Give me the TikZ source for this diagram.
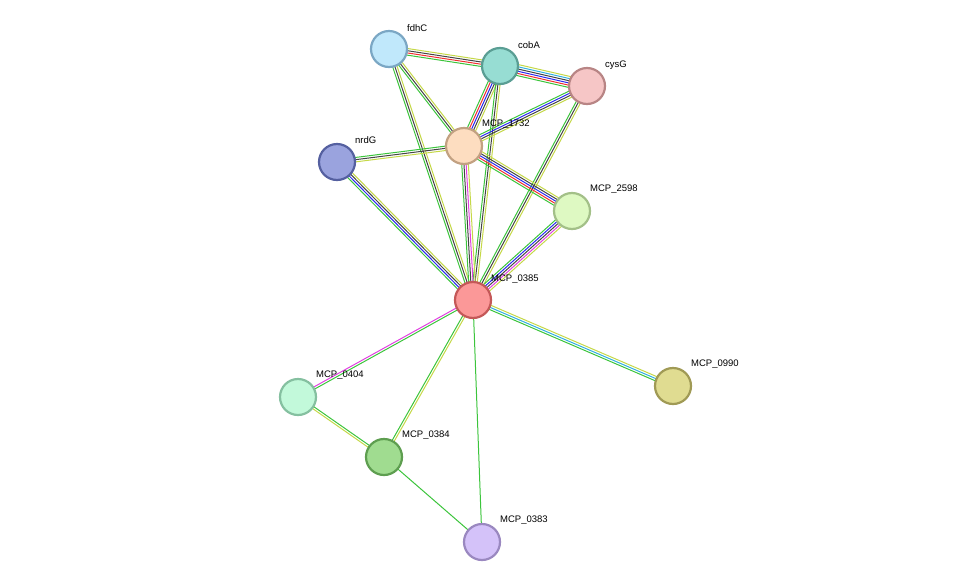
\documentclass[tikz,border=0pt]{standalone}
\usepackage{fontspec}
\setmainfont{Liberation Sans}
\usetikzlibrary{calc}
\definecolor{G}{HTML}{3CC43C}\definecolor{K}{HTML}{444444}\definecolor{Y}{HTML}{C5D848}
\definecolor{R}{HTML}{F03030}\definecolor{B}{HTML}{2A2AF0}\definecolor{M}{HTML}{E040E0}\definecolor{C}{HTML}{30B0E0}
\newcommand\bund[4]{\foreach \c [count=\i] in {#4}{\pgfmathsetmacro\o{(\i-1-(#3-1)/2)*2.2}
 \draw[\c,line width=1pt] ($(#1.center)!\o pt!90:(#2.center)$) -- ($(#2.center)!\o pt!-90:(#1.center)$);}}
\tikzset{prot/.code 2 args={\definecolor{pf}{HTML}{#1}\definecolor{pd}{HTML}{#2}\pgfkeysalso{fill=pf,draw=pd}},
 pn/.style={circle,minimum size=36pt,inner sep=0pt,line width=2.2pt},
 lab/.style={anchor=west,font=\fontsize{9.5pt}{11pt}\selectfont,inner sep=0pt}}
\begin{document}
\begin{tikzpicture}[x=1pt,y=-1pt]
\useasboundingbox (0,0) rectangle (975,587);
\path (389,49) coordinate (fdhC) (500,66) coordinate (cobA) (587,86) coordinate (cysG)
 (464,146) coordinate (p1732) (337,162) coordinate (nrdG) (572,211) coordinate (p2598)
 (473,300) coordinate (p0385) (673,386) coordinate (p0990) (298,397) coordinate (p0404)
 (384,457) coordinate (p0384) (482,542) coordinate (p0383);
\bund{fdhC}{cobA}{4}{G,R,K,Y}
\bund{cobA}{cysG}{6}{G,R,B,K,C,Y}
\bund{fdhC}{p1732}{3}{G,K,Y}
\bund{fdhC}{p0385}{3}{G,K,Y}
\bund{cobA}{p1732}{5}{G,R,B,K,Y}
\bund{cobA}{p0385}{3}{G,K,Y}
\bund{cysG}{p1732}{4}{G,B,K,Y}
\bund{cysG}{p0385}{3}{G,K,Y}
\bund{nrdG}{p1732}{3}{Y,K,G}
\bund{nrdG}{p0385}{4}{G,B,K,Y}
\bund{p1732}{p2598}{5}{G,R,B,K,Y}
\bund{p1732}{p0385}{4}{G,K,M,Y}
\bund{p2598}{p0385}{5}{G,B,K,M,Y}
\bund{p0385}{p0990}{3}{G,C,Y}
\bund{p0385}{p0404}{2}{M,G}
\bund{p0385}{p0384}{2}{G,Y}
\bund{p0385}{p0383}{1}{G}
\bund{p0404}{p0384}{2}{Y,G}
\bund{p0384}{p0383}{1}{G}
\node[pn,prot={c0e8fb}{7ba7c4}] (nfdhC) at (fdhC) {};
\node[pn,prot={97ddd3}{5a9e94}] (ncobA) at (cobA) {};
\node[pn,prot={f6c6c6}{b88585}] (ncysG) at (cysG) {};
\node[pn,prot={fdddc0}{c2a182}] (n1732) at (p1732) {};
\node[pn,prot={9aa3de}{5560a0}] (nnrdG) at (nrdG) {};
\node[pn,prot={def9c2}{a3c088}] (n2598) at (p2598) {};
\node[pn,prot={fb9898}{c45858}] (n0385) at (p0385) {};
\node[pn,prot={e0dc91}{a09a55}] (n0990) at (p0990) {};
\node[pn,prot={c2f9da}{85c0a0}] (n0404) at (p0404) {};
\node[pn,prot={a0dc90}{5e9e50}] (n0384) at (p0384) {};
\node[pn,prot={d4c2f9}{9a88c0}] (n0383) at (p0383) {};
\node[lab] (lfdhC) at (407,28) {fdhC};
\node[lab] (lcobA) at (518,45) {cobA};
\node[lab] (lcysG) at (605,65) {cysG};
\node[lab] (l1732) at (482,124) {MCP\_1732};
\node[lab] (lnrdG) at (355,140) {nrdG};
\node[lab] (l2598) at (590,189) {MCP\_2598};
\node[lab] (l0385) at (491,279) {MCP\_0385};
\node[lab] (l0990) at (691,364) {MCP\_0990};
\node[lab] (l0404) at (316,375) {MCP\_0404};
\node[lab] (l0384) at (402,435) {MCP\_0384};
\node[lab] (l0383) at (500,520) {MCP\_0383};
\end{tikzpicture}
\end{document}
